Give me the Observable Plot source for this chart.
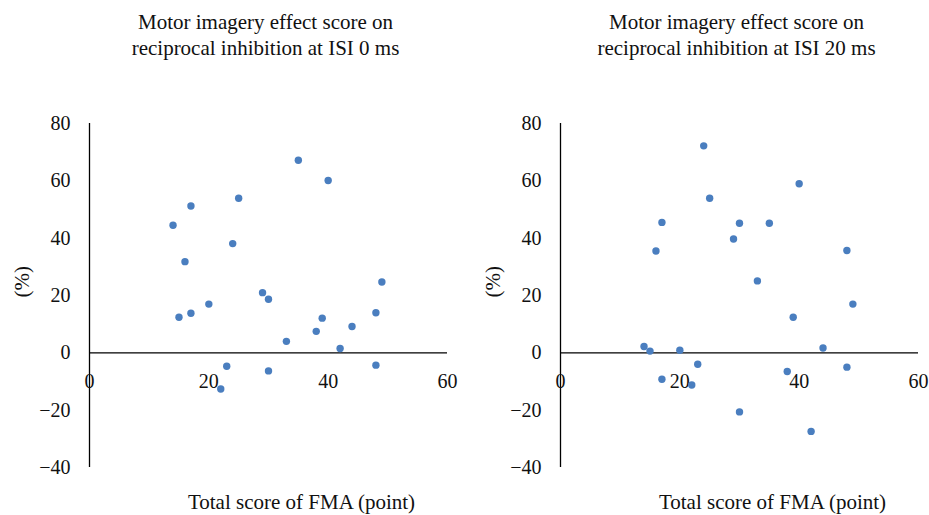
<!DOCTYPE html>
<html>
<head>
<meta charset="utf-8">
<script src="https://cdn.jsdelivr.net/npm/d3@7"></script>
<script src="https://cdn.jsdelivr.net/npm/@observablehq/plot@0.6"></script>
<style>
  html, body { margin: 0; padding: 0; background: #fff; }
  #wrap { position: relative; width: 929px; height: 515px; overflow: hidden; }
  .panel { position: absolute; top: 0; }
</style>
</head>
<body>
<div id="wrap"></div>
<script>
// FMA total scores (same patients in both panels)
const fma0 = [14, 17, 25, 35, 40, 24, 16, 29, 30, 20, 15, 17, 49, 48, 39, 44, 38, 33, 42, 23, 30, 48, 22];
const effect0 = [44.5, 51.2, 53.9, 67.2, 60.1, 38.1, 31.8, 21.0, 18.7, 17.0, 12.4, 13.8, 24.7, 14.0, 12.1, 9.2, 7.5, 4.0, 1.5, -4.7, -6.3, -4.3, -12.6];

const fma20 = [24, 25, 40, 17, 30, 35, 29, 16, 48, 33, 49, 39, 14, 15, 20, 44, 23, 38, 48, 17, 22, 30, 42];
const effect20 = [72.2, 53.9, 59.0, 45.5, 45.2, 45.2, 39.7, 35.5, 35.7, 25.1, 17.0, 12.4, 2.2, 0.6, 0.9, 1.7, -4.0, -6.5, -5.0, -9.2, -11.2, -20.6, -27.4];

const xTicks = [0, 20, 40, 60];
const yTicks = [80, 60, 40, 20, 0, -20, -40];
const titles = [
  "Motor imagery effect score on\nreciprocal inhibition at ISI 0 ms",
  "Motor imagery effect score on\nreciprocal inhibition at ISI 20 ms"
];
const xLabel = "Total score of FMA (point)";
const yLabel = "(%)";

const FONT = "'Liberation Serif', 'DejaVu Serif', serif";
const DOT = "#4a7ebf";

function panel(xs, ys, title, left, width, mLeft, mRight) {
  const data = xs.map((x, i) => ({x, y: ys[i]}));
  const chart = Plot.plot({
    width,
    height: 515,
    marginLeft: mLeft,
    marginRight: mRight,
    marginTop: 123,
    marginBottom: 48,
    x: {domain: [0, 60], axis: null},
    y: {domain: [-40, 80], axis: null},
    style: {fontFamily: FONT, fontSize: "20px", color: "#111", background: "#fff", overflow: "visible"},
    marks: [
      Plot.ruleY([0], {x1: xTicks[0], x2: xTicks[xTicks.length - 1], stroke: "#000", strokeWidth: 1.3}),
      Plot.ruleX([0], {y1: yTicks[yTicks.length - 1], y2: yTicks[0], stroke: "#000", strokeWidth: 1.3}),
      Plot.text(yTicks, {x: 0, y: d => d, text: d => d3.format("")(d), textAnchor: "end", dx: -19, fontSize: 20, fill: "#111"}),
      Plot.text(xTicks, {x: d => d, y: 0, text: d => String(d), dy: 29, fontSize: 20, fill: "#111"}),
      Plot.dot(data, {x: "x", y: "y", r: 3.7, fill: DOT, stroke: null}),
      Plot.text([xLabel], {frameAnchor: "bottom", dx: 33, dy: 41, fontSize: 21, fill: "#111"}),
      Plot.text([yLabel], {frameAnchor: "left", rotate: -90, dx: -67, dy: 2, fontSize: 21, fill: "#111"}),
      Plot.text([title], {frameAnchor: "top", lineAnchor: "middle", dx: -3, dy: -90, lineHeight: 1.25, fontSize: 21, fill: "#111"})
    ]
  });
  chart.classList.add("panel");
  chart.style.left = left + "px";
  document.getElementById("wrap").appendChild(chart);
}

panel(fma0, effect0, titles[0], 0, 465, 89, 18);
panel(fma20, effect20, titles[1], 470, 459, 90, 11);
</script>
</body>
</html>
